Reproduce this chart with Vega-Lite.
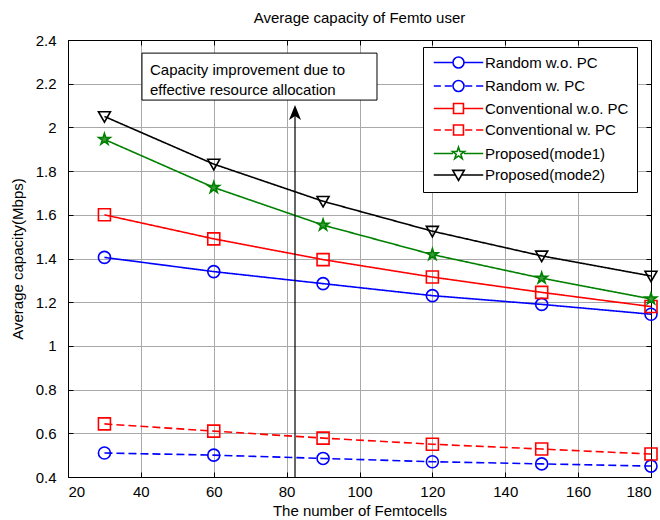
{
  "$schema": "https://vega.github.io/schema/vega-lite/v6.json",
  "width": 583,
  "height": 437,
  "autosize": {"type": "none"},
  "padding": {"left": 68, "top": 40, "right": 9, "bottom": 43},
  "background": "white",
  "title": {"text": "Average capacity of Femto user", "fontSize": 15, "fontWeight": "normal", "font": "Liberation Sans", "color": "black", "anchor": "middle", "offset": 7},
  "datasets": {
    "d": [
      {"s": "Random w.o. PC", "x": 30, "y": 1.405},
      {"s": "Random w.o. PC", "x": 60, "y": 1.34},
      {"s": "Random w.o. PC", "x": 90, "y": 1.285},
      {"s": "Random w.o. PC", "x": 120, "y": 1.23},
      {"s": "Random w.o. PC", "x": 150, "y": 1.19},
      {"s": "Random w.o. PC", "x": 180, "y": 1.145},
      {"s": "Random w. PC", "x": 30, "y": 0.51},
      {"s": "Random w. PC", "x": 60, "y": 0.5},
      {"s": "Random w. PC", "x": 90, "y": 0.485},
      {"s": "Random w. PC", "x": 120, "y": 0.47},
      {"s": "Random w. PC", "x": 150, "y": 0.46},
      {"s": "Random w. PC", "x": 180, "y": 0.45},
      {"s": "Conventional w.o. PC", "x": 30, "y": 1.6},
      {"s": "Conventional w.o. PC", "x": 60, "y": 1.49},
      {"s": "Conventional w.o. PC", "x": 90, "y": 1.395},
      {"s": "Conventional w.o. PC", "x": 120, "y": 1.315},
      {"s": "Conventional w.o. PC", "x": 150, "y": 1.245},
      {"s": "Conventional w.o. PC", "x": 180, "y": 1.18},
      {"s": "Conventional w. PC", "x": 30, "y": 0.643},
      {"s": "Conventional w. PC", "x": 60, "y": 0.61},
      {"s": "Conventional w. PC", "x": 90, "y": 0.578},
      {"s": "Conventional w. PC", "x": 120, "y": 0.55},
      {"s": "Conventional w. PC", "x": 150, "y": 0.528},
      {"s": "Conventional w. PC", "x": 180, "y": 0.505},
      {"s": "Proposed(mode1)", "x": 30, "y": 1.945},
      {"s": "Proposed(mode1)", "x": 60, "y": 1.725},
      {"s": "Proposed(mode1)", "x": 90, "y": 1.553},
      {"s": "Proposed(mode1)", "x": 120, "y": 1.418},
      {"s": "Proposed(mode1)", "x": 150, "y": 1.31},
      {"s": "Proposed(mode1)", "x": 180, "y": 1.215},
      {"s": "Proposed(mode2)", "x": 30, "y": 2.05},
      {"s": "Proposed(mode2)", "x": 60, "y": 1.832},
      {"s": "Proposed(mode2)", "x": 90, "y": 1.662},
      {"s": "Proposed(mode2)", "x": 120, "y": 1.525},
      {"s": "Proposed(mode2)", "x": 150, "y": 1.412},
      {"s": "Proposed(mode2)", "x": 180, "y": 1.32}
    ],
    "box": [{"x": 40.3, "x2": 104.8, "y": 2.34, "y2": 2.125}],
    "note": [
      {"x": 42.5, "y": 2.263, "t": "Capacity improvement due to"},
      {"x": 42.5, "y": 2.171, "t": "effective resource allocation"}
    ],
    "arrow": [{"x": 82.3, "y": 0.4, "y2": 2.08, "yh": 2.068}]
  },
  "config": {
    "font": "Liberation Sans",
    "view": {"stroke": "black", "strokeWidth": 1},
    "axis": {
      "labelFontSize": 15, "titleFontSize": 15, "titleFontWeight": "normal",
      "labelFont": "Liberation Sans", "titleFont": "Liberation Sans",
      "labelColor": "black", "titleColor": "black",
      "domainColor": "black", "domainWidth": 1,
      "tickColor": "black", "tickWidth": 1, "tickSize": -5,
      "gridColor": "#a9a9a9", "gridOpacity": 1, "gridWidth": 1
    }
  },
  "resolve": {
    "scale": {"color": "independent", "shape": "independent", "size": "independent", "fill": "independent", "strokeDash": "independent"},
    "axis": {"x": "independent", "y": "independent"}
  },
  "layer": [
    {
      "data": {"name": "d"},
      "mark": {"type": "line", "strokeWidth": 1.6},
      "encoding": {
        "x": {"field": "x", "type": "quantitative",
          "scale": {"domain": [20, 180], "nice": false, "zero": false},
          "axis": {"orient": "bottom", "values": [20, 40, 60, 80, 100, 120, 140, 160, 180], "title": "The number of Femtocells", "grid": true, "labelPadding": 12, "titlePadding": 4}},
        "y": {"field": "y", "type": "quantitative",
          "scale": {"domain": [0.4, 2.4], "nice": false, "zero": false},
          "axis": {"orient": "left", "values": [0.4, 0.6, 0.8, 1, 1.2, 1.4, 1.6, 1.8, 2, 2.2, 2.4], "format": "~g", "title": "Average capacity(Mbps)", "grid": true, "labelPadding": 17, "titlePadding": 10}},
        "color": {"field": "s", "type": "nominal",
          "scale": {"domain": ["Random w.o. PC", "Random w. PC", "Conventional w.o. PC", "Conventional w. PC", "Proposed(mode1)", "Proposed(mode2)"],
                    "range": ["#0000ff", "#0000ff", "#ff0000", "#ff0000", "#008000", "#000000"]},
          "legend": null},
        "strokeDash": {"field": "s", "type": "nominal",
          "scale": {"domain": ["Random w.o. PC", "Random w. PC", "Conventional w.o. PC", "Conventional w. PC", "Proposed(mode1)", "Proposed(mode2)"],
                    "range": [[1, 0], [8, 4], [1, 0], [8, 4], [1, 0], [1, 0]]},
          "legend": null}
      }
    },
    {
      "data": {"name": "d"},
      "mark": {"type": "point", "filled": false, "strokeWidth": 1.6, "opacity": 1},
      "encoding": {
        "x": {"field": "x", "type": "quantitative", "scale": {"domain": [20, 180], "nice": false, "zero": false}, "axis": null},
        "y": {"field": "y", "type": "quantitative", "scale": {"domain": [0.4, 2.4], "nice": false, "zero": false}, "axis": null},
        "color": {"field": "s", "type": "nominal",
          "scale": {"domain": ["Random w.o. PC", "Random w. PC", "Conventional w.o. PC", "Conventional w. PC", "Proposed(mode1)", "Proposed(mode2)"],
                    "range": ["#0000ff", "#0000ff", "#ff0000", "#ff0000", "#008000", "#000000"]},
          "legend": null},
        "fill": {"field": "s", "type": "nominal",
          "scale": {"domain": ["Random w.o. PC", "Random w. PC", "Conventional w.o. PC", "Conventional w. PC", "Proposed(mode1)", "Proposed(mode2)"],
                    "range": ["transparent", "transparent", "transparent", "transparent", "#3a9c3a", "transparent"]},
          "legend": null},
        "shape": {"field": "s", "type": "nominal",
          "scale": {"domain": ["Random w.o. PC", "Random w. PC", "Conventional w.o. PC", "Conventional w. PC", "Proposed(mode1)", "Proposed(mode2)"],
                    "range": ["circle", "circle", "square", "square", "M0,-1L0.2245,-0.309L0.951,-0.309L0.363,0.118L0.588,0.809L0,0.382L-0.588,0.809L-0.363,0.118L-0.951,-0.309L-0.2245,-0.309Z", "M-1,-0.8L1,-0.8L0,0.95Z"]},
          "legend": null},
        "size": {"field": "s", "type": "nominal",
          "scale": {"domain": ["Random w.o. PC", "Random w. PC", "Conventional w.o. PC", "Conventional w. PC", "Proposed(mode1)", "Proposed(mode2)"],
                    "range": [144, 144, 115, 115, 180, 160]},
          "legend": null}
      }
    },
    {
      "data": {"name": "box"},
      "mark": {"type": "rect", "fill": "white", "stroke": "black", "strokeWidth": 1},
      "encoding": {
        "x": {"field": "x", "type": "quantitative", "scale": {"domain": [20, 180], "nice": false, "zero": false},
          "axis": {"orient": "top", "values": [20, 40, 60, 80, 100, 120, 140, 160, 180], "labels": false, "title": null, "grid": false}},
        "x2": {"field": "x2"},
        "y": {"field": "y", "type": "quantitative", "scale": {"domain": [0.4, 2.4], "nice": false, "zero": false},
          "axis": {"orient": "right", "values": [0.4, 0.6, 0.8, 1, 1.2, 1.4, 1.6, 1.8, 2, 2.2, 2.4], "labels": false, "title": null, "grid": false}},
        "y2": {"field": "y2"}
      }
    },
    {
      "data": {"name": "note"},
      "mark": {"type": "text", "align": "left", "baseline": "middle", "fontSize": 15, "font": "Liberation Sans", "color": "black"},
      "encoding": {
        "x": {"field": "x", "type": "quantitative", "scale": {"domain": [20, 180], "nice": false, "zero": false}, "axis": null},
        "y": {"field": "y", "type": "quantitative", "scale": {"domain": [0.4, 2.4], "nice": false, "zero": false}, "axis": null},
        "text": {"field": "t"}
      }
    },
    {
      "data": {"name": "arrow"},
      "mark": {"type": "rule", "color": "black", "strokeWidth": 1.2},
      "encoding": {
        "x": {"field": "x", "type": "quantitative", "scale": {"domain": [20, 180], "nice": false, "zero": false}, "axis": null},
        "y": {"field": "y", "type": "quantitative", "scale": {"domain": [0.4, 2.4], "nice": false, "zero": false}, "axis": null},
        "y2": {"field": "y2"}
      }
    },
    {
      "data": {"name": "arrow"},
      "mark": {"type": "point", "filled": true, "color": "black", "opacity": 1, "size": 225, "shape": "M0,-1L-0.8,1L0,0.45L0.8,1Z"},
      "encoding": {
        "x": {"field": "x", "type": "quantitative", "scale": {"domain": [20, 180], "nice": false, "zero": false}, "axis": null},
        "y": {"field": "yh", "type": "quantitative", "scale": {"domain": [0.4, 2.4], "nice": false, "zero": false}, "axis": null}
      }
    },
    {
      "data": {"name": "d"},
      "transform": [{"filter": "false"}],
      "mark": {"type": "point", "filled": false, "strokeWidth": 1.6, "opacity": 1},
      "encoding": {
        "color": {"field": "s", "type": "nominal",
          "scale": {"domain": ["Random w.o. PC", "Random w. PC", "Conventional w.o. PC", "Conventional w. PC", "Proposed(mode1)", "Proposed(mode2)"],
                    "range": ["#0000ff", "#0000ff", "#ff0000", "#ff0000", "#008000", "#000000"]},
          "legend": {"title": null, "orient": "none", "legendX": 355, "legendY": 7, "symbolSize": 121, "symbolStrokeWidth": 1.6, "symbolOffset": 20, "labelOffset": 19, "labelFontSize": 15, "labelFont": "Liberation Sans", "labelColor": "black", "padding": 8, "rowPadding": 4.5, "strokeColor": "black", "fillColor": "white", "symbolFillColor": "transparent"}},
        "shape": {"field": "s", "type": "nominal",
          "scale": {"domain": ["Random w.o. PC", "Random w. PC", "Conventional w.o. PC", "Conventional w. PC", "Proposed(mode1)", "Proposed(mode2)"],
                    "range": [
                      "M-4.5,0H-1M1,0H4.5M1,0A1,1,0,1,1,-1,0A1,1,0,1,1,1,0",
                      "M-4.5,0H-3.2M-2.5,0H-1.2M1.2,0H2.5M3.2,0H4.5M1,0A1,1,0,1,1,-1,0A1,1,0,1,1,1,0",
                      "M-4.5,0H-0.9M0.9,0H4.5M-0.9,-0.9H0.9V0.9H-0.9Z",
                      "M-4.5,0H-3.2M-2.5,0H-1.2M1.2,0H2.5M3.2,0H4.5M-0.9,-0.9H0.9V0.9H-0.9Z",
                      "M-4.5,0H-1M1,0H4.5M0,-1.15L0.26,-0.36L1.09,-0.36L0.42,0.14L0.68,0.93L0,0.44L-0.68,0.93L-0.42,0.14L-1.09,-0.36L-0.26,-0.36Z",
                      "M-4.5,0H-0.57M0.57,0H4.5M-1.05,-0.85H1.05L0,1Z"
                    ]},
          "legend": {"title": null, "orient": "none", "legendX": 355, "legendY": 7, "symbolSize": 121, "symbolStrokeWidth": 1.6, "symbolOffset": 20, "labelOffset": 19, "labelFontSize": 15, "labelFont": "Liberation Sans", "labelColor": "black", "padding": 8, "rowPadding": 4.5, "strokeColor": "black", "fillColor": "white", "symbolFillColor": "transparent"}}
      }
    }
  ]
}
